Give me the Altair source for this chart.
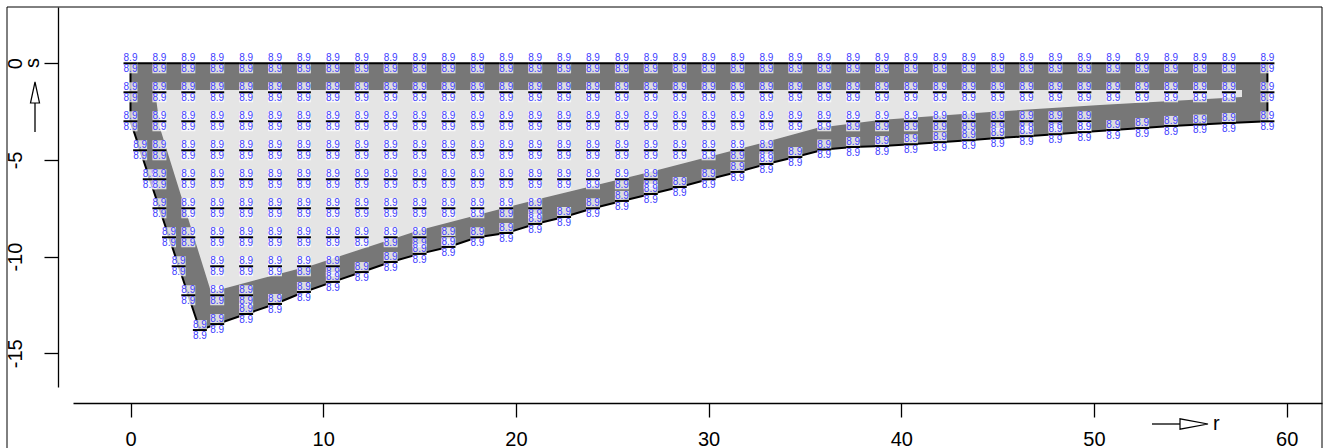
import altair as alt
import pandas as pd

# ---------------- data ----------------
# mesh columns (r) and the lowest regular grid row kept in each column
col_r = [0, 1.5, 3, 4.5, 6, 7.5, 9, 10.5, 12, 13.5, 15, 16.5, 18, 19.5, 21, 22.5,
         24, 25.5, 27, 28.5, 30, 31.5, 33, 34.5, 36, 37.5, 39, 40.5, 42, 43.5, 45,
         46.5, 48, 49.5, 51, 52.5, 54, 55.5, 57, 59]
col_grid_min = [-3, -6, -9, -12, -12, -10.5, -10.5, -10.5, -9, -9, -9, -9, -7.5, -7.5,
                -7.5, -6, -6, -6, -6, -4.5, -4.5, -4.5, -4.5, -3, -3, -3, -3, -3, -3,
                -3, -3, -3, -3, -3, -1.5, -1.5, -1.5, -1.5, -1.5, -1.5]
row_s = [0, -1.5, -3, -4.5, -6, -7.5, -9, -10.5, -12]

# nodes on the slanted left edge
edge_r = [0.5, 1.0, 1.5, 2.0, 2.5, 3.0]
edge_s = [-4.5, -6.0, -7.5, -9.0, -10.5, -12.0]

# nodes on the curved bottom edge (first = lower-left corner)
bnd_r = [3.6, 4.5, 6, 7.5, 9, 10.5, 12, 13.5, 15, 16.5, 18, 19.5, 21, 22.5, 24, 25.5,
         27, 28.5, 30, 31.5, 33, 34.5, 36, 37.5, 39, 40.5, 42, 43.5, 45, 46.5, 48,
         49.5, 51, 52.5, 54, 55.5, 57, 59]
bnd_s = [-13.8, -13.49, -12.97, -12.45, -11.83, -11.31, -10.80, -10.28, -9.86, -9.50,
         -9.0, -8.78, -8.31, -7.95, -7.5, -7.12, -6.76, -6.40, -6.0, -5.62, -5.21,
         -4.85, -4.46, -4.33, -4.28, -4.19, -4.08, -3.98, -3.87, -3.77, -3.67, -3.56,
         -3.45, -3.35, -3.24, -3.17, -3.09, -3.0]

# inner (light) region
inner_r = [1.27, 1.53, 4.18, 9.47, 15.02, 21.41, 26.96, 32.77, 35.62, 38.89, 44.6, 50.31, 57.68]
inner_bot = [-1.38, -3.35, -11.83, -10.43, -8.62, -6.97, -5.62, -4.12, -3.35, -2.93,
             -2.52, -2.16, -1.74]
inner_top = -1.38

node_num = "8.9"
node_den = "8.9"

x_ticks = [0, 10, 20, 30, 40, 50, 60]
y_ticks = [0, -5, -10, -15]

# ---------------- tables ----------------
outer = pd.DataFrame({"r": [0] + edge_r + bnd_r,
                      "top": 0.0,
                      "bot": [-3.0] + edge_s + bnd_s})
inner = pd.DataFrame({"r": inner_r, "top": inner_top, "bot": inner_bot})

path_r = [0, 59] + bnd_r[::-1] + edge_r[::-1] + [0, 0]
path_s = [0, 0] + bnd_s[::-1] + edge_s[::-1] + [-3, 0]
outline = pd.DataFrame({"r": path_r, "s": path_s, "o": list(range(len(path_r)))})

grid_pts = [(r, s) for r, gmin in zip(col_r, col_grid_min) for s in row_s if s >= gmin - 1e-9]


def nodes(pts):
    return pd.DataFrame({"r": [p[0] for p in pts], "s": [p[1] for p in pts],
                         "num": node_num, "den": node_den})


edge_nodes = nodes(list(zip(edge_r, edge_s)))
grid_nodes = nodes(grid_pts)
bnd_nodes = nodes(list(zip(bnd_r, bnd_s)))

# ---------------- scales / axes ----------------
xs = alt.Scale(domain=[-2.984, 61.832], nice=False, zero=False)
ys = alt.Scale(domain=[-16.746, 2.913], nice=False, zero=False)

FONT = "Liberation Sans"
AX = 20

x_axis = alt.Axis(values=x_ticks, orient="bottom", offset=16, tickSize=14, tickWidth=1.3,
                  domainWidth=1.3, domainColor="black", tickColor="black", grid=False,
                  labelFont=FONT, labelFontSize=AX, labelColor="black", labelPadding=12,
                  labelBaseline="top", labelFlush=False, labelOverlap=False, title=None)
y_axis = alt.Axis(values=y_ticks, orient="left", offset=15, tickSize=14, tickWidth=1.3,
                  domainWidth=1.3, domainColor="black", tickColor="black", grid=False,
                  labelFont=FONT, labelFontSize=AX, labelColor="black", labelPadding=19,
                  labelAngle=270, labelAlign="center", labelBaseline="bottom",
                  labelExpr="'' + datum.value",
                  labelFlush=False, labelOverlap=False, title=None)


def X(field):
    return alt.X(field, scale=xs, axis=x_axis)


def Y(field):
    return alt.Y(field, scale=ys, axis=y_axis)


outer_area = alt.Chart(outer).mark_area(color="#777777", orient="vertical").encode(
    x=X("r:Q"), y=Y("top:Q"), y2="bot:Q")
inner_area = alt.Chart(inner).mark_area(color="#e5e5e5", orient="vertical").encode(
    x=X("r:Q"), y=Y("top:Q"), y2="bot:Q")
outline_line = alt.Chart(outline).mark_line(color="black", strokeWidth=2).encode(
    x=X("r:Q"), y=Y("s:Q"), order="o:Q")

BOX = "M-0.7,-1L0.7,-1L0.7,1L-0.7,1Z"
BLUE = "#4040ff"


def node_layers(df):
    base = alt.Chart(df).encode(x=X("r:Q"), y=Y("s:Q"))
    box = base.mark_point(shape=BOX, size=400, filled=True, color="white",
                          opacity=0.75, strokeWidth=0)
    bar = base.mark_rule(color="black", strokeWidth=2, xOffset=-7, x2Offset=7).encode(
        x2="r:Q")
    num = base.mark_text(font=FONT, fontSize=10, color=BLUE, baseline="alphabetic",
                         align="center", dy=-2).encode(text="num:N")
    den = base.mark_text(font=FONT, fontSize=10, color=BLUE, baseline="alphabetic",
                         align="center", dy=8.8).encode(text="den:N")
    return [box, bar, num, den]


one = pd.DataFrame({"k": [0]})
frame = alt.Chart(one).mark_rect(fillOpacity=0, stroke="black", strokeWidth=1).encode(
    x=alt.value(-66), x2=alt.value(1249), y=alt.value(0), y2=alt.value(460))

s_shaft = alt.Chart(one).mark_rule(color="black", strokeWidth=1.3).encode(
    x=alt.value(-38), y=alt.value(125), y2=alt.value(96))
s_head = alt.Chart(one).mark_point(shape="M0,-1L0.43,1L-0.43,1Z", size=441, filled=True,
                                   fill="white", stroke="black", strokeWidth=1.2,
                                   opacity=1).encode(x=alt.value(-38), y=alt.value(85.5))
s_text = alt.Chart(one).mark_text(text="s", font=FONT, fontSize=AX, angle=270,
                                  align="center", baseline="middle").encode(
    x=alt.value(-40), y=alt.value(56))

r_shaft = alt.Chart(one).mark_rule(color="black", strokeWidth=1.3).encode(
    x=alt.value(1079), x2=alt.value(1107), y=alt.value(417))
r_head = alt.Chart(one).mark_point(shape="M1,0L-1,-0.37L-1,0.37Z", size=784, filled=True,
                                   fill="white", stroke="black", strokeWidth=1.2,
                                   opacity=1).encode(x=alt.value(1121), y=alt.value(417))
r_text = alt.Chart(one).mark_text(text="r", font=FONT, fontSize=AX, align="left",
                                  baseline="middle").encode(
    x=alt.value(1140), y=alt.value(417))

layers = [outer_area, inner_area, outline_line]
layers += node_layers(edge_nodes) + node_layers(grid_nodes) + node_layers(bnd_nodes)
layers += [frame, s_shaft, s_head, s_text, r_shaft, r_head, r_text]

chart = alt.layer(*layers).properties(
    width=1249, height=380,
    padding={"left": 73, "top": 7, "right": 2, "bottom": 61},
    autosize=alt.AutoSizeParams(type="none"),
).configure_view(stroke=None)

chart.save("out.html", embed_options={"renderer": "svg", "actions": False})
